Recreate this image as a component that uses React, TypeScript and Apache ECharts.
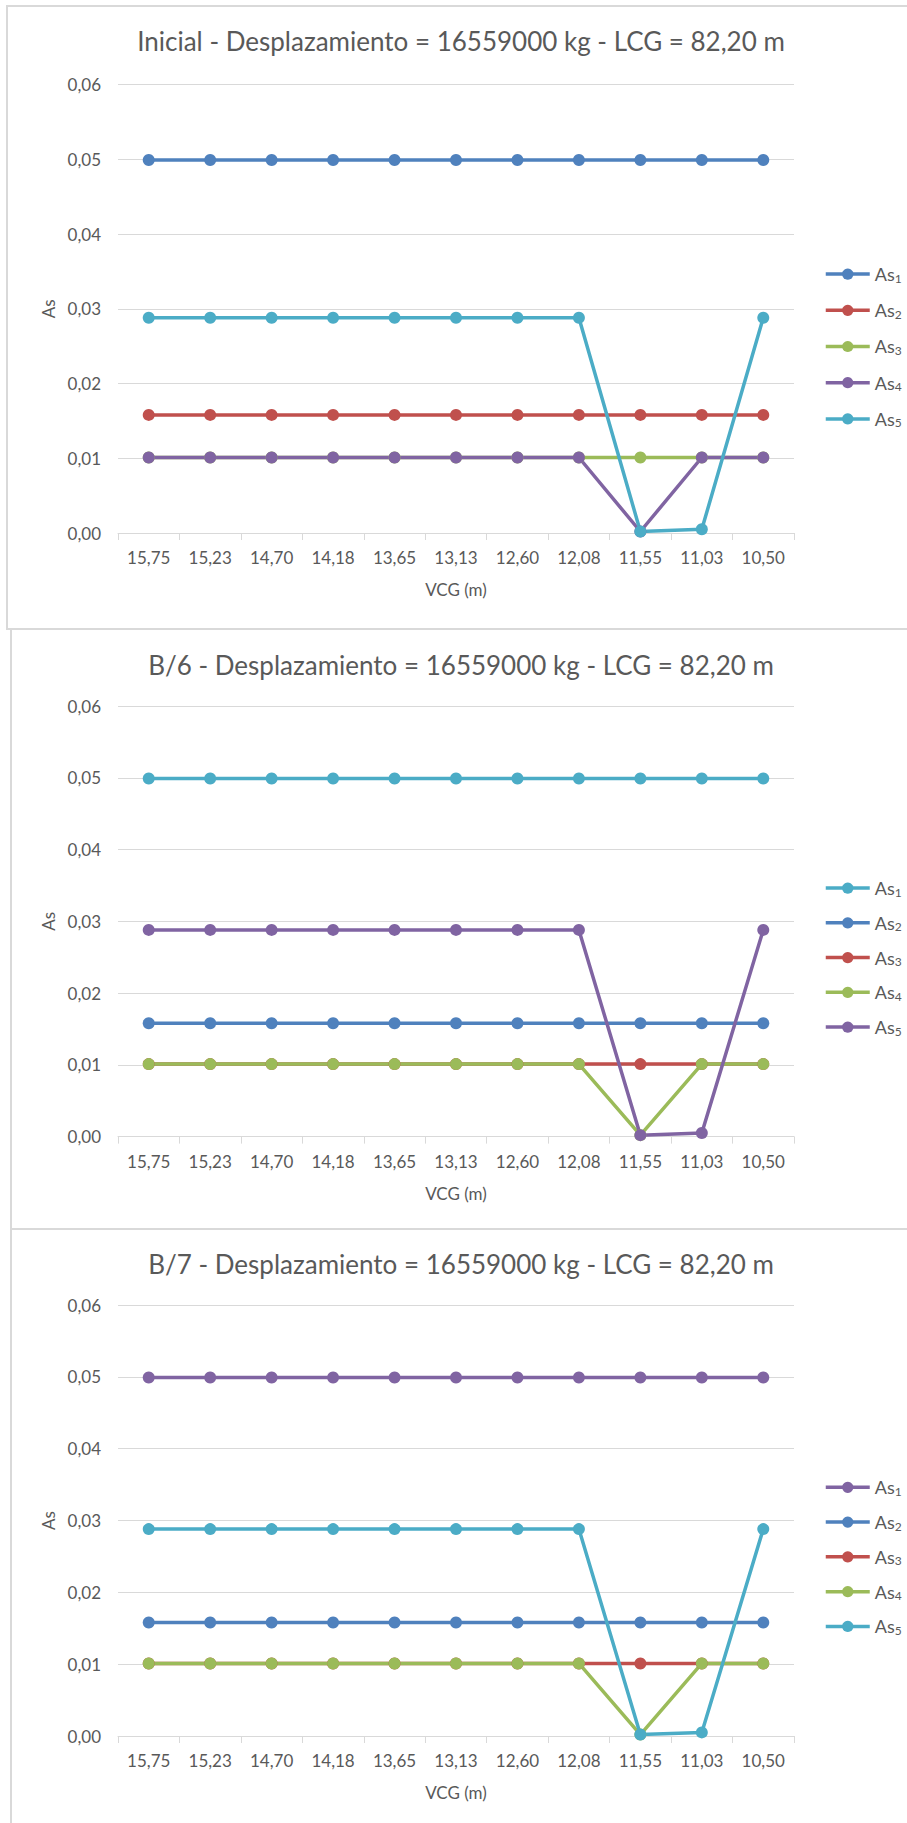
import React, { useEffect, useRef } from "react";
import * as echarts from "echarts";

// ---- data ----
const categories = ["15,75", "15,23", "14,70", "14,18", "13,65", "13,13", "12,60", "12,08", "11,55", "11,03", "10,50"];
const seriesNames = ["As1", "As2", "As3", "As4", "As5"];
const as1 = [0.0499, 0.0499, 0.0499, 0.0499, 0.0499, 0.0499, 0.0499, 0.0499, 0.0499, 0.0499, 0.0499];
const as2 = [0.0158, 0.0158, 0.0158, 0.0158, 0.0158, 0.0158, 0.0158, 0.0158, 0.0158, 0.0158, 0.0158];
const as3 = [0.0101, 0.0101, 0.0101, 0.0101, 0.0101, 0.0101, 0.0101, 0.0101, 0.0101, 0.0101, 0.0101];
const as4 = [0.0101, 0.0101, 0.0101, 0.0101, 0.0101, 0.0101, 0.0101, 0.0101, 0.0002, 0.0101, 0.0101];
const as5 = [0.0288, 0.0288, 0.0288, 0.0288, 0.0288, 0.0288, 0.0288, 0.0288, 0.0002, 0.0005, 0.0288];
const seriesData = [as1, as2, as3, as4, as5];
const titles = [
  "Inicial - Desplazamiento = 16559000 kg - LCG = 82,20 m",
  "B/6 - Desplazamiento = 16559000 kg - LCG = 82,20 m",
  "B/7 - Desplazamiento = 16559000 kg - LCG = 82,20 m",
];
const yMin = 0;
const yMax = 0.06;
const yStep = 0.01;

// ---- styles ----
const BLUE = "#4F81BD";
const RED = "#C0504D";
const GREEN = "#9BBB59";
const PURPLE = "#8064A2";
const AQUA = "#4BACC6";
const TEXT = "#595959";
const GRID = "#D9D9D9";
const FONT = "Lato, 'Open Sans', sans-serif";

const panelColors = [
  [BLUE, RED, GREEN, PURPLE, AQUA],
  [AQUA, BLUE, RED, GREEN, PURPLE],
  [PURPLE, BLUE, RED, GREEN, AQUA],
];

const layouts = [
  { top: 0, height: 629, titleY: 41, gridTop: 84.5, axisY: 533 },
  { top: 629, height: 600, titleY: 36, gridTop: 77, axisY: 507.6 },
  { top: 1229, height: 594, titleY: 35, gridTop: 76, axisY: 507 },
];

// legend rows placed as a fraction of the plot height (from the axis upward)
const legendFirstFrac = 0.5817;
const legendStepFrac = 0.0807;

const borders = [
  { left: 6, top: 5, height: 625 },
  { left: 10, top: 628, height: 602 },
  { left: 10, top: 1228, height: 700 },
];

function Panel({ idx }: { idx: number }) {
  const ref = useRef<HTMLDivElement>(null);
  const lay = layouts[idx];
  useEffect(() => {
    if (!ref.current) return;
    const chart = echarts.init(ref.current, null, { renderer: "svg" });
    const colors = panelColors[idx];
    const plotH = lay.axisY - lay.gridTop;
    chart.setOption({
      animation: false,
      graphic: [
        {
          type: "text",
          x: 461,
          y: lay.titleY,
          style: {
            text: titles[idx],
            align: "center",
            verticalAlign: "middle",
            fontFamily: FONT,
            fontSize: 26,
            fill: TEXT,
          },
        },
      ],
      grid: {
        left: 118,
        right: 907 - 794,
        top: lay.gridTop,
        bottom: lay.height - lay.axisY,
        containLabel: false,
      },
      xAxis: {
        type: "category",
        data: categories,
        boundaryGap: true,
        name: "VCG (m)",
        nameLocation: "middle",
        nameGap: 48,
        nameTextStyle: { color: TEXT, fontFamily: FONT, fontSize: 17 },
        axisLine: { show: true, lineStyle: { color: GRID, width: 1 } },
        axisTick: { show: true, length: 7, lineStyle: { color: GRID, width: 1 } },
        axisLabel: { interval: 0, color: TEXT, fontFamily: FONT, fontSize: 17, margin: 16 },
        splitLine: { show: false },
      },
      yAxis: {
        type: "value",
        min: yMin,
        max: yMax,
        interval: yStep,
        name: "As",
        nameLocation: "middle",
        nameGap: 60,
        nameTextStyle: { color: TEXT, fontFamily: FONT, fontSize: 17 },
        axisLine: { show: false },
        axisTick: { show: false },
        axisLabel: {
          color: TEXT,
          fontFamily: FONT,
          fontSize: 17,
          margin: 17,
          formatter: (v: number) => v.toFixed(2).replace(".", ","),
        },
        splitLine: { lineStyle: { color: GRID, width: 1 } },
      },
      legend: seriesNames.map((name, i) => ({
        orient: "vertical",
        left: 824,
        top: lay.axisY - (legendFirstFrac - i * legendStepFrac) * plotH - 7,
        padding: 0,
        itemWidth: 44,
        itemHeight: 14,
        lineStyle: { width: 3.5 },
        formatter: (n: string) => "As{s|" + n.slice(2) + "}",
        textStyle: {
          color: TEXT,
          fontFamily: FONT,
          fontSize: 18,
          rich: {
            s: { color: TEXT, fontFamily: FONT, fontSize: 12, padding: [8, 0, 0, 0] },
          },
        },
        data: [name],
      })),
      series: seriesNames.map((name, i) => ({
        name,
        type: "line",
        data: seriesData[i],
        symbol: "circle",
        symbolSize: 12,
        showSymbol: true,
        lineStyle: { width: 3.5, color: colors[i] },
        itemStyle: { color: colors[i] },
        emphasis: { disabled: true },
      })),
    });
    return () => chart.dispose();
  }, []);
  return (
    <div
      ref={ref}
      style={{ position: "absolute", left: 0, top: lay.top, width: 907, height: lay.height }}
    />
  );
}

export default function App() {
  return (
    <div
      style={{
        position: "absolute",
        left: 0,
        top: 0,
        width: 907,
        height: 1823,
        overflow: "hidden",
        background: "#fff",
      }}
    >
      {borders.map((b, i) => (
        <div
          key={"b" + i}
          style={{
            position: "absolute",
            left: b.left,
            top: b.top,
            width: 1000,
            height: b.height,
            border: "2px solid #D9D9D9",
            boxSizing: "border-box",
          }}
        />
      ))}
      {[0, 1, 2].map((i) => (
        <Panel key={i} idx={i} />
      ))}
    </div>
  );
}
